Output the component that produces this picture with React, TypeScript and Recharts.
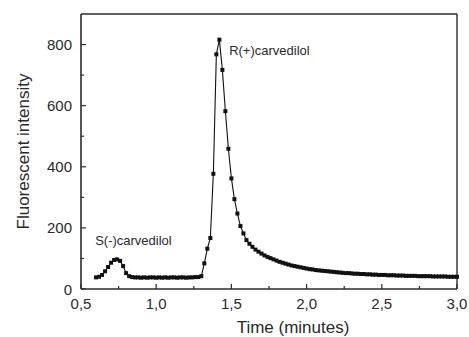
import React from 'react';
import { LineChart, Line, XAxis, YAxis, ReferenceLine, ReferenceDot } from 'recharts';

const TIME = [
  0.60, 0.62, 0.64, 0.66, 0.68, 0.70, 0.72, 0.74, 0.76, 0.78,
  0.80, 0.82, 0.84, 0.86, 0.88, 0.90, 0.92, 0.94, 0.96, 0.98,
  1.00, 1.02, 1.04, 1.06, 1.08, 1.10, 1.12, 1.14, 1.16, 1.18,
  1.20, 1.22, 1.24, 1.26, 1.28, 1.30, 1.32, 1.34, 1.36, 1.38,
  1.40, 1.42, 1.44, 1.46, 1.48, 1.50, 1.52, 1.54, 1.56, 1.58,
  1.60, 1.62, 1.64, 1.66, 1.68, 1.70, 1.72, 1.74, 1.76, 1.78,
  1.80, 1.82, 1.84, 1.86, 1.88, 1.90, 1.92, 1.94, 1.96, 1.98,
  2.00, 2.02, 2.04, 2.06, 2.08, 2.10, 2.12, 2.14, 2.16, 2.18,
  2.20, 2.22, 2.24, 2.26, 2.28, 2.30, 2.32, 2.34, 2.36, 2.38,
  2.40, 2.42, 2.44, 2.46, 2.48, 2.50, 2.52, 2.54, 2.56, 2.58,
  2.60, 2.62, 2.64, 2.66, 2.68, 2.70, 2.72, 2.74, 2.76, 2.78,
  2.80, 2.82, 2.84, 2.86, 2.88, 2.90, 2.92, 2.94, 2.96, 2.98,
  3.00,
];

const INTENSITY = [
  38, 40, 46, 58, 72, 86, 95, 97, 92, 75,
  52, 42, 39, 38, 38, 37, 38, 37, 38, 38,
  37, 38, 37, 38, 37, 38, 38, 37, 38, 38,
  37, 38, 38, 39, 39, 42, 84, 132, 167, 377,
  768, 816, 717, 582, 459, 362, 294, 247, 206, 182,
  160, 148, 138, 129, 122, 116, 110, 105, 101, 97,
  93, 89, 86, 83, 80, 77, 75, 73, 71, 69,
  67, 65, 64, 62, 61, 60, 59, 58, 57, 56,
  55, 54, 53, 52, 52, 51, 50, 50, 49, 49,
  48, 48, 47, 47, 46, 46, 46, 45, 45, 45,
  44, 44, 44, 43, 43, 43, 43, 42, 42, 42,
  42, 42, 41, 41, 41, 41, 41, 40, 40, 40,
  40,
];

const X_TICKS = [0.5, 0.75, 1.0, 1.25, 1.5, 1.75, 2.0, 2.25, 2.5, 2.75, 3.0];
const X_LABELS: Record<string, string> = { '0.5': '0,5', '1': '1,0', '1.5': '1,5', '2': '2,0', '2.5': '2,5', '3': '3,0' };
const Y_TICKS = [0, 100, 200, 300, 400, 500, 600, 700, 800];
const Y_LABELS: Record<string, string> = { '0': '0', '200': '200', '400': '400', '600': '600', '800': '800' };

const X_DOMAIN: [number, number] = [0.5, 3.0];
const Y_DOMAIN: [number, number] = [0, 900];

const PEAK_LABELS = [
  { name: 'S(-)carvedilol', t: 0.594, v: 160 },
  { name: 'R(+)carvedilol', t: 1.485, v: 782 },
];

const data = TIME.map((t, i) => ({ t, v: INTENSITY[i] }));

const FONT = '"Liberation Sans", Arial, Helvetica, sans-serif';
const AXIS = '#2b2b2b';
const INK = '#111';
const TEXT = '#2a2a2a';

const XTick = (props: any) => {
  const { x, y, payload } = props;
  const key = String(payload.value);
  const label = X_LABELS[key];
  const major = label !== undefined;
  return (
    <g>
      <line x1={x} x2={x} y1={y} y2={y - (major ? 5 : 3)} stroke={AXIS} strokeWidth={1.2} />
      {major && (
        <text x={x} y={y + 20} textAnchor="middle" fontSize={15} fontFamily={FONT} fill={TEXT}>
          {label}
        </text>
      )}
    </g>
  );
};

const YTick = (props: any) => {
  const { x, y, payload } = props;
  const key = String(payload.value);
  const label = Y_LABELS[key];
  const major = label !== undefined;
  return (
    <g>
      <line x1={x} x2={x + (major ? 5 : 3)} y1={y} y2={y} stroke={AXIS} strokeWidth={1.2} />
      {major && (
        <text x={x - 9} y={y + 5.5} textAnchor="end" fontSize={15} fontFamily={FONT} fill={TEXT}>
          {label}
        </text>
      )}
    </g>
  );
};

const Marker = (p: any) => (
  <rect key={`m-${p.index}`} x={p.cx - 2} y={p.cy - 2} width={4} height={4} fill={INK} />
);

const YTitle = (p: any) => {
  const vb = p.viewBox || { x: 0, y: 14, width: 81, height: 275 };
  const cx = vb.x + 23;
  const cy = vb.y + vb.height / 2;
  return (
    <text x={cx} y={cy} transform={`rotate(-90 ${cx} ${cy})`} textAnchor="middle" dominantBaseline="central"
      fontSize={17} fontFamily={FONT} fill={TEXT}>
      Fluorescent intensity
    </text>
  );
};

const XTitle = (p: any) => {
  const vb = p.viewBox || { x: 81, y: 289, width: 376, height: 30 };
  const cx = vb.x + vb.width / 2 + 24;
  const cy = vb.y + 44;
  return (
    <text x={cx} y={cy} textAnchor="middle" fontSize={17} fontFamily={FONT} fill={TEXT}>
      Time (minutes)
    </text>
  );
};

const PeakText = (p: any) => {
  const vb = p.viewBox || { x: 0, y: 0 };
  return (
    <text x={vb.x} y={vb.y} textAnchor="start" dominantBaseline="central" fontSize={13} fontFamily={FONT} fill={TEXT}>
      {p.value}
    </text>
  );
};

export default function App() {
  return (
    <div style={{ position: 'absolute', left: 0, top: 0, background: '#fff' }}>
      <LineChart width={469} height={337} data={data} margin={{ top: 14, right: 12, bottom: 18, left: 0 }}>
        <XAxis
          dataKey="t"
          type="number"
          domain={X_DOMAIN}
          ticks={X_TICKS}
          interval={0}
          height={30}
          tickSize={0}
          tickMargin={0}
          tickLine={false}
          axisLine={{ stroke: AXIS, strokeWidth: 1.6 }}
          tick={<XTick />}
          label={{ content: <XTitle /> }}
        />
        <YAxis
          type="number"
          domain={Y_DOMAIN}
          ticks={Y_TICKS}
          interval={0}
          width={81}
          tickSize={0}
          tickMargin={0}
          tickLine={false}
          axisLine={{ stroke: AXIS, strokeWidth: 1.6 }}
          tick={<YTick />}
          label={{ content: <YTitle /> }}
        />
        <ReferenceLine y={Y_DOMAIN[1]} stroke={AXIS} strokeWidth={1.4} />
        <ReferenceLine x={X_DOMAIN[1]} stroke={AXIS} strokeWidth={1.4} />
        <Line
          type="linear"
          dataKey="v"
          stroke={INK}
          strokeWidth={1.1}
          dot={Marker}
          activeDot={false}
          isAnimationActive={false}
        />
        {PEAK_LABELS.map((pk) => (
          <ReferenceDot key={pk.name} x={pk.t} y={pk.v} r={0} stroke="none" fill="none"
            label={<PeakText value={pk.name} />} />
        ))}
      </LineChart>
    </div>
  );
}
